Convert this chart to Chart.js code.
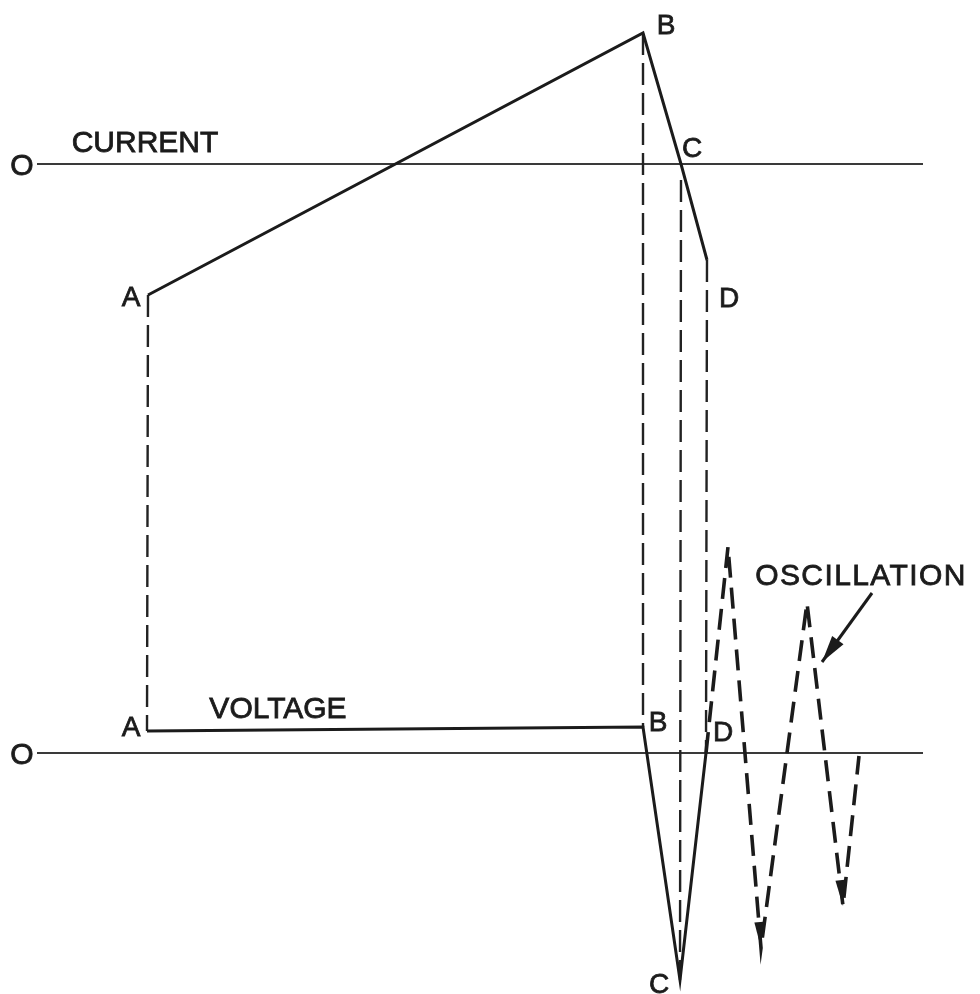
<!DOCTYPE html>
<html>
<head>
<meta charset="utf-8">
<style>
html,body{margin:0;padding:0;background:#fff}
canvas{display:block}
</style>
<script src="https://cdn.jsdelivr.net/npm/chart.js@4.4.1/dist/chart.umd.min.js"></script>
</head>
<body>
<canvas id="c" width="980" height="994"></canvas>
<script>
// ---- data (time in arbitrary units, current / voltage relative to their zero lines) ----
const pointNames = ['A', 'B', 'C', 'D'];
const currentT = [11.1, 60.6, 64.4, 67.0];
const currentI = [-13.1, 13.1, 0, -9.6];
const voltageT = [11.0, 60.6, 64.3, 66.9];
const voltageV = [2.2, 2.6, -22.7, 0];
const oscT = [66.9, 69.1, 72.4, 77.0, 80.6, 82.2];
const oscV = [0, 20.6, -19.5, 15.0, -15.3, -0.3];
const pointerT = [83.5, 78.5];
const pointerV = [16.0, 9.1];

// ---- text annotations (data coordinates) ----
const labelSpecs = [
  { text: 'O', x: -1.5, y: 0, axis: 'yI', big: true },
  { text: 'CURRENT', x: 10.8, y: 2.3, axis: 'yI', big: true },
  { text: pointNames[0], x: 9.4, y: -13.2, axis: 'yI' },
  { text: pointNames[1], x: 62.9, y: 14.0, axis: 'yI' },
  { text: pointNames[2], x: 65.5, y: 1.7, axis: 'yI' },
  { text: pointNames[3], x: 69.2, y: -13.3, axis: 'yI' },
  { text: 'O', x: -1.5, y: 0, axis: 'yV', big: true },
  { text: 'VOLTAGE', x: 24.1, y: 4.6, axis: 'yV', big: true },
  { text: pointNames[0], x: 9.4, y: 2.7, axis: 'yV' },
  { text: pointNames[1], x: 62.1, y: 3.2, axis: 'yV' },
  { text: pointNames[3], x: 68.6, y: 2.2, axis: 'yV' },
  { text: pointNames[2], x: 62.2, y: -23.0, axis: 'yV' },
  { text: 'OSCILLATION', x: 82.4, y: 17.9, axis: 'yV', big: true, spacing: 1.4 }
];

const INK = '#1b1b1b';
const zip = (xs, ys) => xs.map((x, i) => ({ x, y: ys[i] }));

function arrowHead(ctx, tipX, tipY, fromX, fromY, len, width) {
  const a = Math.atan2(tipY - fromY, tipX - fromX);
  const bx = tipX - Math.cos(a) * len, by = tipY - Math.sin(a) * len;
  const nx = -Math.sin(a) * width / 2, ny = Math.cos(a) * width / 2;
  ctx.beginPath();
  ctx.moveTo(tipX, tipY);
  ctx.lineTo(bx + nx, by + ny);
  ctx.lineTo(bx - nx, by - ny);
  ctx.closePath();
  ctx.fill();
}

const diagramPlugin = {
  id: 'diagram',
  beforeDraw(chart) {
    const ctx = chart.ctx;
    ctx.save();
    ctx.fillStyle = '#ffffff';
    ctx.fillRect(0, 0, chart.width, chart.height);
    ctx.restore();
  },
  beforeDatasetsDraw(chart) {
    // dashed drop lines joining each current point to the matching voltage point
    const ctx = chart.ctx;
    const cur = chart.getDatasetMeta(0).data;
    const vol = chart.getDatasetMeta(1).data;
    ctx.save();
    ctx.strokeStyle = '#222';
    ctx.lineWidth = 2.4;
    ctx.setLineDash([22, 8]);
    for (let i = 0; i < pointNames.length; i++) {
      ctx.beginPath();
      ctx.lineDashOffset = 0;
      ctx.moveTo(cur[i].x, cur[i].y + (i === 2 ? 16 : 0));
      ctx.lineTo(vol[i].x, vol[i].y);
      ctx.stroke();
    }
    ctx.restore();
  },
  afterDatasetsDraw(chart) {
    const ctx = chart.ctx;
    ctx.save();
    ctx.fillStyle = INK;
    // arrowheads at the oscillation troughs
    const osc = chart.getDatasetMeta(2).data;
    for (let i = 1; i < oscV.length - 1; i++) {
      if (oscV[i] < oscV[i - 1] && oscV[i] < oscV[i + 1]) {
        const p = osc[i], q = osc[i - 1];
        arrowHead(ctx, p.x, p.y, q.x, q.y, 26, 9);
      }
    }
    // arrowhead of the OSCILLATION pointer
    const ptr = chart.getDatasetMeta(3).data;
    arrowHead(ctx, ptr[1].x, ptr[1].y, ptr[0].x, ptr[0].y, 27, 14);

    // text
    const xs = chart.scales.x;
    ctx.textAlign = 'center';
    ctx.textBaseline = 'alphabetic';
    ctx.strokeStyle = INK;
    ctx.lineWidth = 0.8;
    labelSpecs.forEach(l => {
      const size = l.big ? 30 : 28;
      ctx.font = size + 'px "Liberation Sans", Arial, sans-serif';
      ctx.letterSpacing = (l.spacing || 0) + 'px';
      const px = xs.getPixelForValue(l.x);
      const py = chart.scales[l.axis].getPixelForValue(l.y) + 0.716 * size / 2;
      ctx.fillText(l.text, px, py);
      ctx.strokeText(l.text, px, py);
    });
    ctx.letterSpacing = '0px';
    ctx.restore();
  }
};

const zeroGrid = {
  display: true,
  drawTicks: false,
  lineWidth: 2,
  color: c => (c.tick && c.tick.value === 0 ? '#3a3a3a' : 'rgba(0,0,0,0)')
};

new Chart(document.getElementById('c'), {
  type: 'line',
  data: {
    datasets: [
      { label: 'Current', data: zip(currentT, currentI), yAxisID: 'yI',
        borderColor: INK, borderWidth: 3, pointRadius: 0, tension: 0, clip: false },
      { label: 'Voltage', data: zip(voltageT, voltageV), yAxisID: 'yV',
        borderColor: INK, borderWidth: 3, pointRadius: 0, tension: 0, clip: false },
      { label: 'Oscillation', data: zip(oscT, oscV), yAxisID: 'yV',
        borderColor: INK, borderWidth: 3.6, borderDash: [21, 10], pointRadius: 0, tension: 0, clip: false },
      { label: 'Pointer', data: zip(pointerT, pointerV), yAxisID: 'yV',
        borderColor: INK, borderWidth: 3, pointRadius: 0, tension: 0, clip: false }
    ]
  },
  options: {
    responsive: false,
    animation: false,
    devicePixelRatio: 1,
    events: [],
    layout: { padding: { left: 37, right: 57, top: 0, bottom: 0 } },
    plugins: { legend: { display: false }, tooltip: { enabled: false } },
    scales: {
      x: { type: 'linear', min: 0, max: 88.6, display: false },
      yI: { type: 'linear', position: 'left', min: -83.0, max: 16.4,
            ticks: { display: false, stepSize: 10 }, border: { display: false }, grid: zeroGrid },
      yV: { type: 'linear', position: 'left', min: -24.1, max: 75.3,
            ticks: { display: false, stepSize: 10 }, border: { display: false }, grid: zeroGrid }
    }
  },
  plugins: [diagramPlugin]
});
</script>
</body>
</html>
